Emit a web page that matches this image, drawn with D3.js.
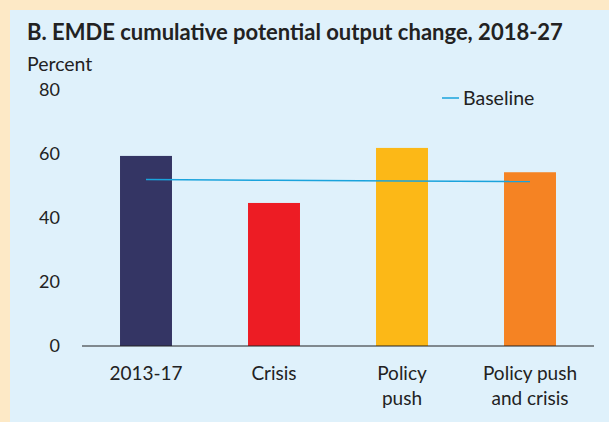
<!DOCTYPE html>
<html lang="en">
<head>
<meta charset="UTF-8">
<title>EMDE cumulative potential output change</title>
<script src="https://d3js.org/d3.v7.min.js"></script>
<style>
  body { margin: 0; background: #fde9c6; }
  svg text { font-family: Lato, 'Open Sans', sans-serif; fill: #222; }
</style>
</head>
<body>
<svg id="chart" width="609" height="422"></svg>
<script>
// data
var categories = ['2013-17', 'Crisis', 'Policy push', 'Policy push and crisis'];
var labelLines = [['2013-17'], ['Crisis'], ['Policy', 'push'], ['Policy push', 'and crisis']];
var values = [59.4, 44.7, 61.9, 54.3];
var baseline = [52.0, 51.8, 51.6, 51.4];
var barColors = ['#343564', '#ed1c24', '#fcb817', '#f58323'];
var yTicks = [0, 20, 40, 60, 80];

var svg = d3.select('#chart');

// light blue panel
svg.append('rect')
    .attr('x', 10).attr('y', 10)
    .attr('width', 609).attr('height', 422)
    .attr('fill', '#dff1fb');

var x = d3.scaleBand()
    .domain(categories)
    .range([82, 594])
    .paddingInner(0.594)
    .paddingOuter(0.297);

var y = d3.scaleLinear()
    .domain([0, 80])
    .range([346, 90]);

svg.append('text')
    .attr('x', 27).attr('y', 40)
    .style('font-size', '22px')
    .style('font-weight', 'bold')
    .text('B. EMDE cumulative potential output change, 2018-27');

svg.append('text')
    .attr('x', 27).attr('y', 71)
    .style('font-size', '19.5px')
    .text('Percent');

// y tick labels, no axis line
svg.append('g')
    .selectAll('text')
    .data(yTicks)
    .enter()
    .append('text')
    .attr('x', 60)
    .attr('y', function (d) { return y(d); })
    .attr('dy', '0.35em')
    .attr('text-anchor', 'end')
    .style('font-size', '18px')
    .text(function (d) { return d; });

// bars
svg.append('g')
    .selectAll('rect')
    .data(values)
    .enter()
    .append('rect')
    .attr('x', function (d, i) { return x(categories[i]); })
    .attr('y', function (d) { return y(d); })
    .attr('width', x.bandwidth())
    .attr('height', function (d) { return y(0) - y(d); })
    .attr('fill', function (d, i) { return barColors[i]; });

// baseline line
var line = d3.line()
    .x(function (d, i) { return x(categories[i]) + x.bandwidth() / 2; })
    .y(function (d) { return y(d); });

svg.append('path')
    .datum(baseline)
    .attr('d', line)
    .attr('fill', 'none')
    .attr('stroke', '#1aa3dc')
    .attr('stroke-width', 1.5);

// x axis line
svg.append('line')
    .attr('x1', 82).attr('x2', 594)
    .attr('y1', y(0)).attr('y2', y(0))
    .attr('stroke', '#222')
    .attr('stroke-width', 1.2);

// category labels
var lab = svg.append('g')
    .selectAll('text')
    .data(categories)
    .enter()
    .append('text')
    .attr('text-anchor', 'middle')
    .attr('x', function (d) { return x(d) + x.bandwidth() / 2; })
    .attr('y', 380)
    .style('font-size', '19px');

lab.selectAll('tspan')
    .data(function (d, i) { return labelLines[i]; })
    .enter()
    .append('tspan')
    .attr('x', function () { return this.parentNode.getAttribute('x'); })
    .attr('dy', function (d, i) { return i === 0 ? 0 : 25; })
    .text(function (d) { return d; });

// legend
svg.append('line')
    .attr('x1', 442).attr('x2', 459)
    .attr('y1', 98).attr('y2', 98)
    .attr('stroke', '#1aa3dc')
    .attr('stroke-width', 1.5);

svg.append('text')
    .attr('x', 463).attr('y', 98)
    .attr('dy', '0.35em')
    .style('font-size', '19.5px')
    .text('Baseline');
</script>
</body>
</html>
